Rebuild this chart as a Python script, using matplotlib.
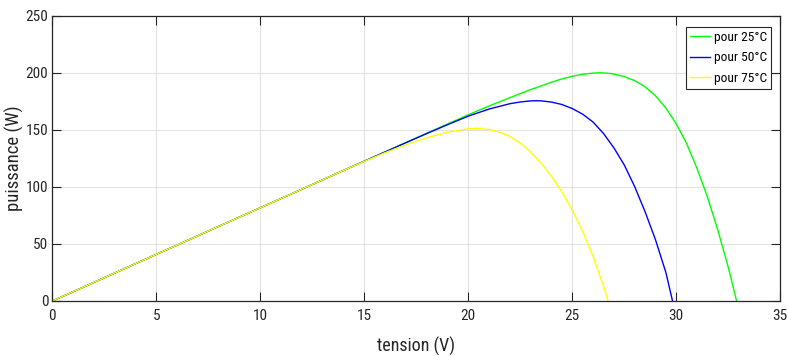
import matplotlib.pyplot as plt
from matplotlib import font_manager

# puissance en fonction de la tension pour trois temperatures
v_25 = [0, 2, 4, 6, 8, 10, 12, 14, 16, 18, 19, 20, 21, 22, 23, 24, 24.5, 25,
        25.5, 26, 26.35, 26.7, 27, 27.5, 28, 28.5, 29, 29.5, 30, 30.5, 31,
        31.5, 32, 32.5, 32.9]
p_25 = [0, 16.3, 32.7, 49, 65.4, 81.7, 98, 114.4, 130.7, 147, 155.1, 163.2,
        170.9, 178.2, 185.3, 191.7, 194.6, 196.9, 198.7, 199.7, 200, 199.6,
        198.9, 196.6, 193.1, 187.7, 179.8, 169.1, 155.2, 137.9, 116, 91, 62,
        29.5, 0]

v_50 = [0, 2, 4, 6, 8, 10, 12, 14, 16, 17, 18, 19, 20, 21, 22, 22.5, 23,
        23.25, 23.5, 24, 24.5, 25, 25.5, 26, 26.5, 27, 27.5, 28, 28.5, 29,
        29.5, 29.82]
p_50 = [0, 16.3, 32.7, 49, 65.4, 81.7, 98, 114.4, 130.6, 138.7, 146.7, 154.5,
        162, 168.2, 172.9, 174.4, 175.35, 175.5, 175.4, 174.3, 172.2, 168.6,
        163.7, 156.8, 146.8, 134.2, 119.2, 100.2, 78.2, 53.7, 25, 0]

v_75 = [0, 2, 4, 6, 8, 10, 12, 14, 15, 16, 17, 18, 19, 19.5, 20, 20.4, 21,
        21.5, 22, 22.5, 23, 23.5, 24, 24.5, 25, 25.5, 26, 26.5, 26.72]
p_75 = [0, 16.3, 32.7, 49, 65.4, 81.7, 98, 114.4, 122.35, 129.95, 136.95,
        143.05, 147.85, 149.6, 150.9, 151.2, 150.3, 148, 144.2, 138.4, 130.5,
        120.8, 109.3, 95.6, 79.6, 61, 39, 13, 0]

labels = ['pour 25°C', 'pour 50°C', 'pour 75°C']
colors = ['#00ff00', '#0000ff', '#ffff00']

# police etroite si disponible
names = {f.name for f in font_manager.fontManager.ttflist}
family = 'Liberation Sans'
for cand in ['Liberation Sans Narrow', 'Roboto Condensed', 'Open Sans Condensed']:
    if cand in names:
        family = cand
        break
plt.rcParams['font.family'] = [family, 'DejaVu Sans']

axc = '#262626'
fig = plt.figure(figsize=(7.88, 3.56), dpi=100)
ax = fig.add_axes([0.0664, 0.1545, 0.9238, 0.8014])

for v, p, lab, c in zip([v_25, v_50, v_75], [p_25, p_50, p_75], labels, colors):
    ax.plot(v, p, color=c, lw=1.0, label=lab)

ax.set_xlim(0, 35)
ax.set_ylim(0, 250)
ax.set_xticks(range(0, 36, 5))
ax.set_yticks(range(0, 251, 50))
ax.grid(True, color='#e3e3e3', lw=0.8)
ax.set_axisbelow(True)
ax.tick_params(direction='in', length=6.5, width=0.8, colors=axc,
               labelsize=11, top=True, right=True)
ax.tick_params(axis='x', pad=6)
ax.tick_params(axis='y', pad=3)
for s in ax.spines.values():
    s.set_color(axc)
    s.set_linewidth(0.9)

ax.set_xlabel('tension (V)', fontsize=13, color=axc)
ax.set_ylabel('puissance (W)', fontsize=13.5, color=axc)
ax.xaxis.set_label_coords(0.5, -0.125)
ax.yaxis.set_label_coords(-0.039, 0.5)

leg = ax.legend(loc='upper right', fontsize=9.7, fancybox=False,
                framealpha=1, edgecolor=axc, handlelength=1.5,
                handletextpad=0.25, borderpad=0.3, labelspacing=0.55,
                borderaxespad=0.0, bbox_to_anchor=(0.9872, 0.9604))
leg.get_frame().set_linewidth(0.8)

fig.savefig('out.png', dpi=100)
